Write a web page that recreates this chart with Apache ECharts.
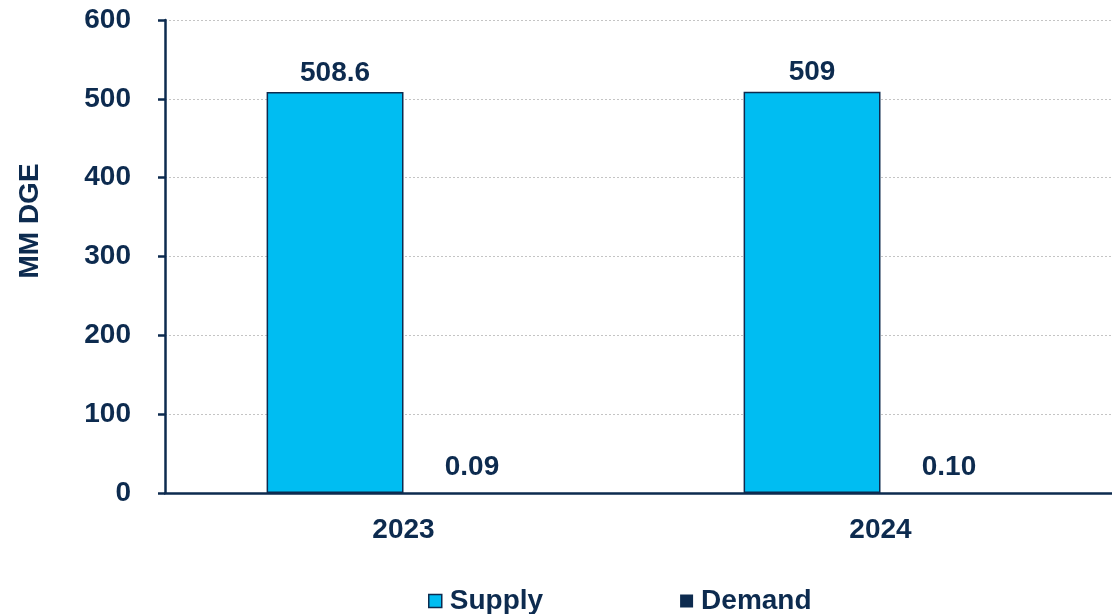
<!DOCTYPE html>
<html>
<head>
<meta charset="utf-8">
<script src="https://cdn.jsdelivr.net/npm/echarts@6/dist/echarts.min.js"></script>
<style>
  html, body { margin: 0; padding: 0; background: #fff; overflow: hidden; }
  /* canvas is a few pixels wider than the window so the plot runs off the right edge */
  #chart { width: 1119px; height: 614px; }
</style>
</head>
<body>
<div id="chart"></div>
<script>
// Years shown on the category axis
const years = ['2023', '2024'];
// Supply and demand, in million diesel gallon equivalents
const supply = [508.6, 509];
const demand = [0.09, 0.10];
const yTicks = [0, 100, 200, 300, 400, 500, 600];

const navy = '#0d2b4f';
const cyan = '#00bdf2';
const font = '"Liberation Sans", Arial, sans-serif';
const fs = 28;

const chart = echarts.init(document.getElementById('chart'));
chart.setOption({
  animation: false,
  textStyle: { fontFamily: font },
  grid: { left: 165, right: 0, top: 20, bottom: 121 },
  legend: {
    top: 587,
    left: 428,
    padding: 0,
    itemGap: 137,
    itemWidth: 13,
    itemHeight: 13,
    icon: 'rect',
    textStyle: { color: navy, fontSize: fs, fontWeight: 'bold', fontFamily: font, padding: [0, 0, 0, 3] },
    data: [
      { name: 'Supply', itemStyle: { color: cyan, borderColor: navy, borderWidth: 1.5 } },
      { name: 'Demand', itemStyle: { color: navy } }
    ]
  },
  xAxis: {
    type: 'category',
    data: years,
    axisLine: { lineStyle: { color: navy, width: 2.5 } },
    axisTick: { show: false },
    axisLabel: { color: navy, fontSize: fs, fontWeight: 'bold', margin: 23 }
  },
  yAxis: {
    type: 'value',
    min: yTicks[0],
    max: yTicks[yTicks.length - 1],
    interval: 100,
    axisLine: { show: true, lineStyle: { color: navy, width: 2.5 } },
    axisTick: { show: true, length: 7, lineStyle: { color: navy, width: 2.5 } },
    axisLabel: { color: navy, fontSize: fs, fontWeight: 'bold', margin: 34 },
    splitLine: { lineStyle: { color: '#c4c4c4', type: [2, 2], width: 1 } }
  },
  graphic: [{
    type: 'text',
    rotation: Math.PI / 2,
    x: 30,
    y: 221,
    style: {
      text: 'MM DGE',
      fill: navy,
      font: 'bold ' + fs + 'px ' + font,
      textAlign: 'center',
      textVerticalAlign: 'middle'
    }
  }],
  series: [
    {
      name: 'Supply',
      type: 'bar',
      data: supply,
      barWidth: '28.7%',
      barGap: '0%',
      itemStyle: { color: cyan, borderColor: navy, borderWidth: 1.5 },
      label: {
        show: true,
        position: 'top',
        distance: 5,
        color: navy,
        fontSize: fs,
        fontWeight: 'bold'
      }
    },
    {
      name: 'Demand',
      type: 'bar',
      data: demand,
      barWidth: '28.7%',
      itemStyle: { color: navy },
      label: {
        show: true,
        position: 'top',
        distance: 12,
        color: navy,
        fontSize: fs,
        fontWeight: 'bold',
        formatter: p => p.value.toFixed(2)
      }
    }
  ]
});
</script>
</body>
</html>
